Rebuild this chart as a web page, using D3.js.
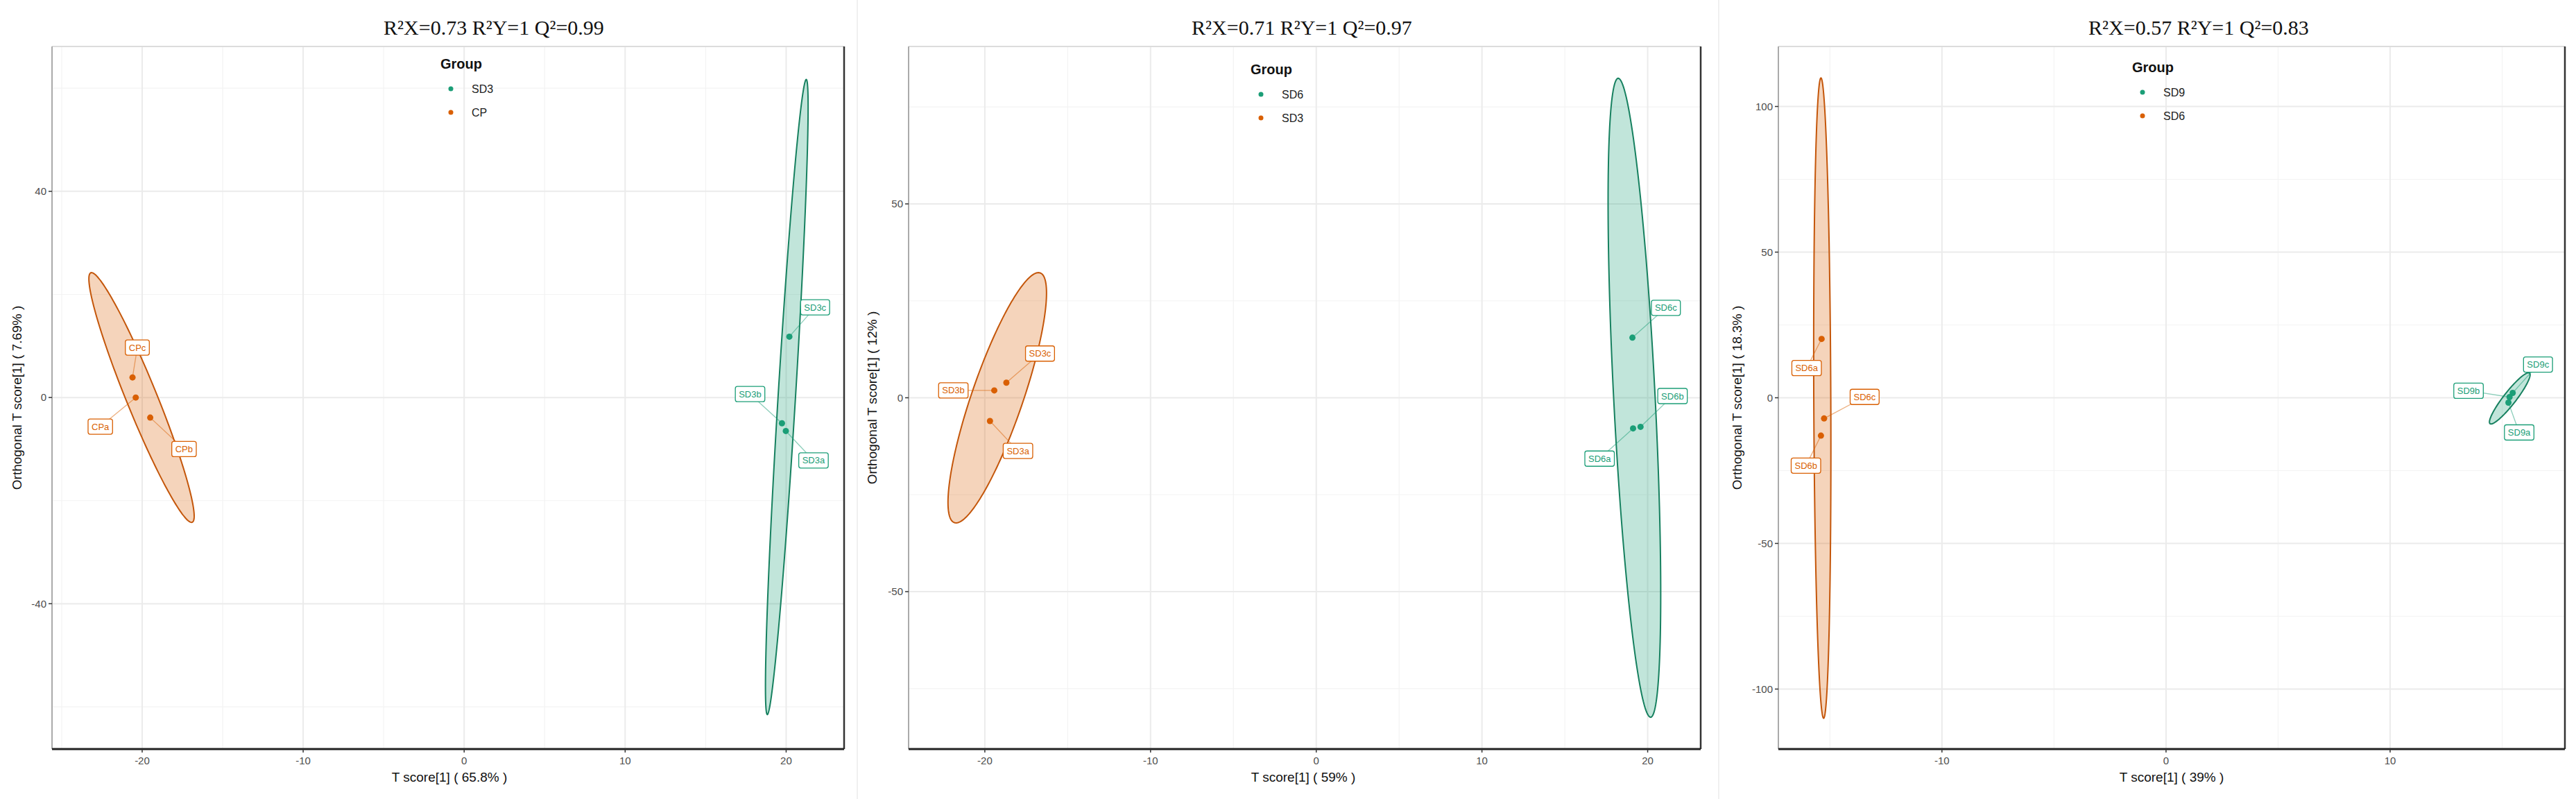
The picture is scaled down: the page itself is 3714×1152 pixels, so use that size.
<!DOCTYPE html>
<html><head><meta charset="utf-8">
<script src="https://cdn.jsdelivr.net/npm/d3@7"></script>
<style>html,body{margin:0;padding:0;background:#fff;} svg{display:block;}</style>
</head><body><svg id="chart" width="3714" height="1152"></svg>
<script>
// ---------------- data ----------------
const panelTitles = ["R²X=0.73 R²Y=1 Q²=0.99", "R²X=0.71 R²Y=1 Q²=0.97", "R²X=0.57 R²Y=1 Q²=0.83"];
const xAxisTitles = ["T score[1] ( 65.8% )", "T score[1] ( 59% )", "T score[1] ( 39% )"];
const yAxisTitles = ["Orthogonal T score[1] ( 7.69% )", "Orthogonal T score[1] ( 12% )", "Orthogonal T score[1] ( 18.3% )"];
const legendGroups = [["SD3", "CP"], ["SD6", "SD3"], ["SD9", "SD6"]];
const xTickValues = [[-20, -10, 0, 10, 20], [-20, -10, 0, 10, 20], [-10, 0, 10]];
const yTickValues = [[-40, 0, 40], [-50, 0, 50], [-100, -50, 0, 50, 100]];
const xMinorValues = [[-25, -15, -5, 5, 15], [-15, -5, 5, 15], [-15, -5, 5, 15]];
const yMinorValues = [[-60, -20, 20, 60], [-75, -25, 25, 75], [-75, -25, 25, 75]];
const xDomains = [[-25.6, 23.6], [-24.6, 23.2], [-17.3, 17.8]];
const yDomains = [[-68.2, 68.1], [-90.6, 90.6], [-120.6, 120.6]];

// sample scores: name, T score, orthogonal score, label anchor (lx, ly) in data units
const scoresP1Green = [
  {s: "SD3c", x: 20.2, y: 11.8, lx: 21.8, ly: 17.5},
  {s: "SD3b", x: 19.74, y: -5.0, lx: 17.76, ly: 0.67},
  {s: "SD3a", x: 19.98, y: -6.5, lx: 21.7, ly: -12.2}];
const scoresP1Orange = [
  {s: "CPc", x: -20.6, y: 3.9, lx: -20.3, ly: 9.7},
  {s: "CPa", x: -20.4, y: 0.0, lx: -22.6, ly: -5.65},
  {s: "CPb", x: -19.5, y: -3.9, lx: -17.4, ly: -10.0}];
const scoresP2Green = [
  {s: "SD6c", x: 19.08, y: 15.5, lx: 21.1, ly: 23.2},
  {s: "SD6b", x: 19.57, y: -7.5, lx: 21.5, ly: 0.45},
  {s: "SD6a", x: 19.12, y: -7.9, lx: 17.1, ly: -15.7}];
const scoresP2Orange = [
  {s: "SD3c", x: -18.7, y: 3.9, lx: -16.67, ly: 11.4},
  {s: "SD3b", x: -19.43, y: 1.9, lx: -21.9, ly: 1.9},
  {s: "SD3a", x: -19.69, y: -6.0, lx: -18.0, ly: -13.7}];
const scoresP3Green = [
  {s: "SD9c", x: 15.47, y: 1.67, lx: 16.6, ly: 11.4},
  {s: "SD9b", x: 15.33, y: 0.24, lx: 13.5, ly: 2.4},
  {s: "SD9a", x: 15.28, y: -1.67, lx: 15.76, ly: -11.9}];
const scoresP3Orange = [
  {s: "SD6a", x: -15.37, y: 20.2, lx: -16.04, ly: 10.2},
  {s: "SD6c", x: -15.26, y: -7.1, lx: -13.45, ly: 0.3},
  {s: "SD6b", x: -15.40, y: -13.0, lx: -16.07, ly: -23.3}];

// confidence ellipses: centre (cx, cy), conjugate semi-axes u=(ux,uy), v=(vx,vy), data units
const ellipsesP1 = [[20.04, 0.1, 1.21, 61.6, 0.54, -0.10], [-20.04, 0, 3.15, -24.2, 0.88, 1.12]];
const ellipsesP2 = [[19.2, 0, -0.98, 82.4, 1.25, 0.27], [-19.25, 0, 2.59, 32.2, 1.46, -2.16]];
const ellipsesP3 = [[15.34, -0.2, 0.88, 8.69, 0.22, -1.31], [-15.34, -0.1, -0.06, 109.9, 0.38, 0]];

const groupColors = ["#1B9E77", "#D95F02"];
const outlineColors = ["#16805f", "#c4560a"];

// ---------------- layout ----------------
const frames = [
  {l: 75, r: 1217, t: 67, b: 1080, titleX: 712, xTitleX: 648, yTitleX: 24, legX: 635, legY: 92},
  {l: 1310, r: 2452, t: 67, b: 1080, titleX: 1877, xTitleX: 1879, yTitleX: 1257, legX: 1803, legY: 100},
  {l: 2564, r: 3698, t: 67, b: 1080, titleX: 3170, xTitleX: 3131, yTitleX: 2504, legX: 3074, legY: 97}
];
const scoreSets = [[scoresP1Green, scoresP1Orange], [scoresP2Green, scoresP2Orange], [scoresP3Green, scoresP3Orange]];
const ellipseSets = [ellipsesP1, ellipsesP2, ellipsesP3];

const svg = d3.select("#chart");
svg.append("rect").attr("width", 3714).attr("height", 1152).attr("fill", "#fff");
[1236, 2478].forEach(x => svg.append("line").attr("x1", x).attr("x2", x).attr("y1", 0).attr("y2", 1152)
  .attr("stroke", "#f0f0f0").attr("stroke-width", 2));

const sans = "'Liberation Sans', Arial, sans-serif";

frames.forEach((f, i) => {
  const g = svg.append("g");
  const x = d3.scaleLinear().domain(xDomains[i]).range([f.l, f.r]);
  const y = d3.scaleLinear().domain(yDomains[i]).range([f.b, f.t]);

  // grid
  const grid = g.append("g");
  grid.selectAll(".vmin").data(xMinorValues[i]).join("line")
    .attr("x1", d => x(d)).attr("x2", d => x(d)).attr("y1", f.t).attr("y2", f.b)
    .attr("stroke", "#f3f3f3").attr("stroke-width", 1.2);
  grid.selectAll(".hmin").data(yMinorValues[i]).join("line")
    .attr("y1", d => y(d)).attr("y2", d => y(d)).attr("x1", f.l).attr("x2", f.r)
    .attr("stroke", "#f3f3f3").attr("stroke-width", 1.2);
  grid.selectAll(".vmaj").data(xTickValues[i]).join("line")
    .attr("x1", d => x(d)).attr("x2", d => x(d)).attr("y1", f.t).attr("y2", f.b)
    .attr("stroke", "#ebebeb").attr("stroke-width", 2);
  grid.selectAll(".hmaj").data(yTickValues[i]).join("line")
    .attr("y1", d => y(d)).attr("y2", d => y(d)).attr("x1", f.l).attr("x2", f.r)
    .attr("stroke", "#ebebeb").attr("stroke-width", 2);

  // frame
  g.append("line").attr("x1", f.l).attr("x2", f.r).attr("y1", f.t).attr("y2", f.t).attr("stroke", "#dcdcdc").attr("stroke-width", 2);
  g.append("line").attr("x1", f.l).attr("x2", f.l).attr("y1", f.t).attr("y2", f.b).attr("stroke", "#aaaaaa").attr("stroke-width", 2);
  g.append("line").attr("x1", f.r).attr("x2", f.r).attr("y1", f.t).attr("y2", f.b).attr("stroke", "#333").attr("stroke-width", 2.5);

  // ellipses
  const tSteps = d3.range(0, 2 * Math.PI, Math.PI / 90);
  const line = d3.line().curve(d3.curveLinearClosed);
  ellipseSets[i].forEach((e, k) => {
    const [cx, cy, ux, uy, vx, vy] = e;
    const pts = tSteps.map(t => [x(cx + ux * Math.cos(t) + vx * Math.sin(t)), y(cy + uy * Math.cos(t) + vy * Math.sin(t))]);
    g.append("path").attr("d", line(pts))
      .attr("fill", groupColors[k]).attr("fill-opacity", 0.27)
      .attr("stroke", outlineColors[k]).attr("stroke-width", 2);
  });

  // points, segments and labels
  scoreSets[i].forEach((set, k) => {
    const col = groupColors[k];
    const lg = g.append("g");
    lg.selectAll("line").data(set).join("line")
      .attr("x1", d => x(d.x)).attr("y1", d => y(d.y)).attr("x2", d => x(d.lx)).attr("y2", d => y(d.ly))
      .attr("stroke", col).attr("stroke-opacity", 0.5).attr("stroke-width", 1.3);
    g.append("g").selectAll("circle").data(set).join("circle")
      .attr("cx", d => x(d.x)).attr("cy", d => y(d.y)).attr("r", 4.5).attr("fill", col);
    const labs = g.append("g").selectAll("g").data(set).join("g")
      .attr("transform", d => `translate(${x(d.lx)},${y(d.ly)})`);
    labs.append("rect").attr("rx", 3).attr("ry", 3).attr("fill", "#fff")
      .attr("stroke", col).attr("stroke-width", 1.3);
    labs.append("text").text(d => d.s).attr("text-anchor", "middle").attr("dy", "0.35em")
      .attr("font-family", sans).attr("font-size", 13).attr("fill", col);
    labs.each(function() {
      const gg = d3.select(this);
      const w = gg.select("text").node().getComputedTextLength() + 10;
      gg.select("rect").attr("x", -w / 2).attr("y", -11).attr("width", w).attr("height", 22);
    });
  });

  // bottom axis line and ticks
  g.append("line").attr("x1", f.l).attr("x2", f.r).attr("y1", f.b).attr("y2", f.b).attr("stroke", "#222").attr("stroke-width", 3);
  g.selectAll(".xt").data(xTickValues[i]).join("line")
    .attr("x1", d => x(d)).attr("x2", d => x(d)).attr("y1", f.b).attr("y2", f.b + 5).attr("stroke", "#333").attr("stroke-width", 1.5);
  g.selectAll(".xl").data(xTickValues[i]).join("text")
    .attr("x", d => x(d)).attr("y", f.b + 22).attr("text-anchor", "middle")
    .attr("font-family", sans).attr("font-size", 15).attr("fill", "#4d4d4d").text(d => d);
  g.selectAll(".yt").data(yTickValues[i]).join("line")
    .attr("x1", f.l - 5).attr("x2", f.l).attr("y1", d => y(d)).attr("y2", d => y(d)).attr("stroke", "#333").attr("stroke-width", 1.5);
  g.selectAll(".yl").data(yTickValues[i]).join("text")
    .attr("x", f.l - 8).attr("y", d => y(d)).attr("dy", "0.35em").attr("text-anchor", "end")
    .attr("font-family", sans).attr("font-size", 15).attr("fill", "#4d4d4d").text(d => d);

  // titles
  g.append("text").attr("x", f.titleX).attr("y", 50).attr("text-anchor", "middle")
    .attr("font-family", "'Liberation Serif', 'Times New Roman', serif").attr("font-size", 30).attr("fill", "#111")
    .text(panelTitles[i]);
  g.append("text").attr("x", f.xTitleX).attr("y", 1127).attr("text-anchor", "middle")
    .attr("font-family", sans).attr("font-size", 19).attr("fill", "#111").text(xAxisTitles[i]);
  g.append("text").attr("transform", `translate(${f.yTitleX},${(f.t + f.b) / 2}) rotate(-90)`)
    .attr("text-anchor", "middle").attr("dy", "0.35em")
    .attr("font-family", sans).attr("font-size", 19).attr("fill", "#111").text(yAxisTitles[i]);

  // legend
  const leg = g.append("g");
  leg.append("text").attr("x", f.legX).attr("y", f.legY).attr("dy", "0.35em")
    .attr("font-family", sans).attr("font-weight", "bold").attr("font-size", 20).attr("fill", "#111").text("Group");
  legendGroups[i].forEach((name, k) => {
    const yy = f.legY + 36 + k * 34;
    leg.append("circle").attr("cx", f.legX + 15).attr("cy", yy).attr("r", 3.5).attr("fill", groupColors[k]);
    leg.append("text").attr("x", f.legX + 45).attr("y", yy).attr("dy", "0.35em")
      .attr("font-family", sans).attr("font-size", 16).attr("fill", "#222").text(name);
  });
});
</script></body></html>
